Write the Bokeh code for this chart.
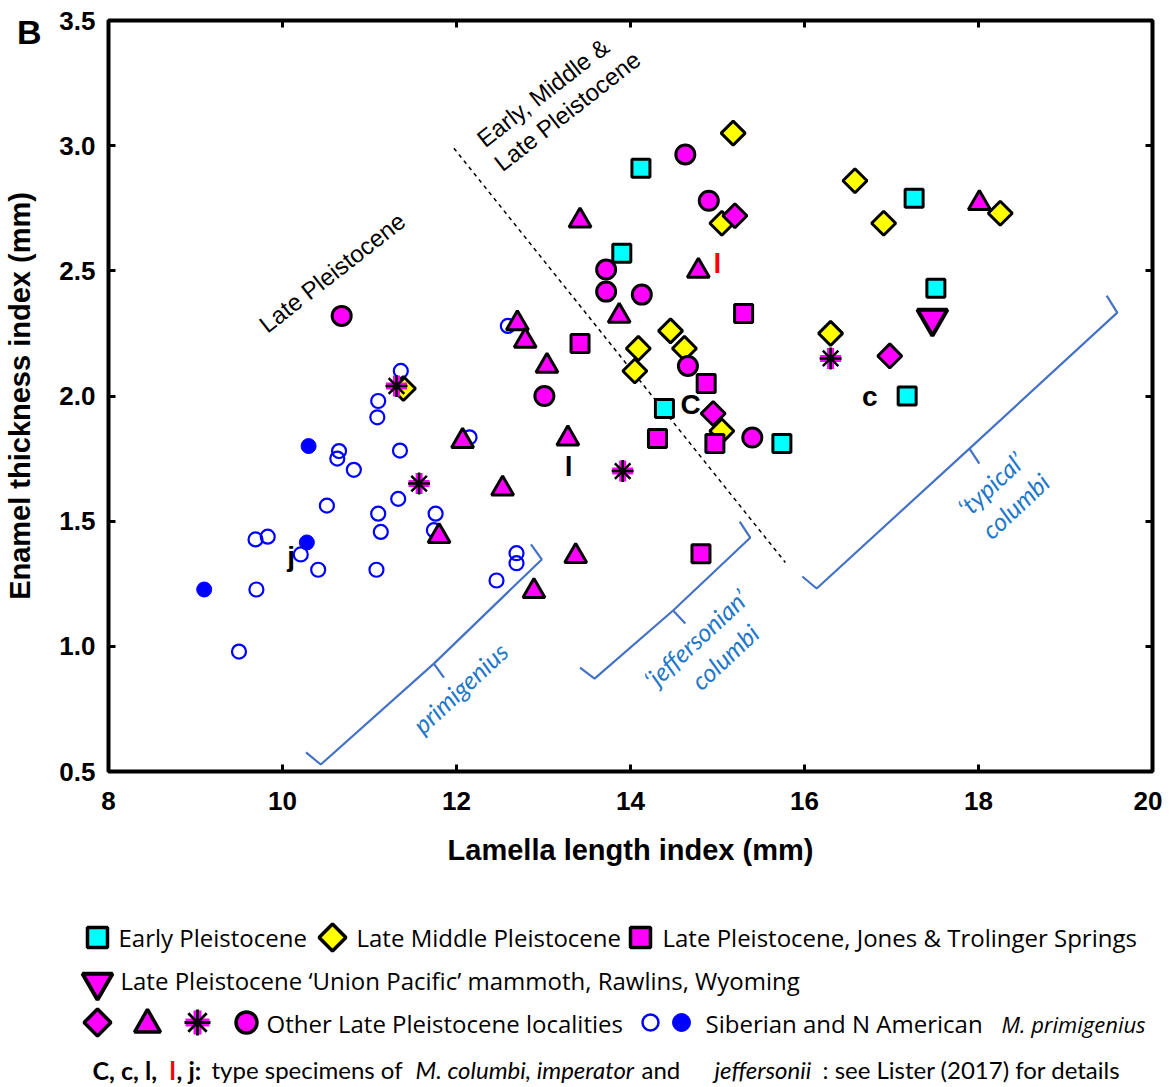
import math
from bokeh.plotting import figure
from bokeh.models import Range1d, LinearAxis, FixedTicker, NumeralTickFormatter, CustomJSTickFormatter
from bokeh.layouts import column
from bokeh.embed import file_html
from bokeh.resources import INLINE
from bokeh.core.properties import value

# ---------------- data ----------------
early_x = [14.12, 13.90, 17.26, 17.51, 17.18, 14.39, 15.74]
early_y = [2.91, 2.57, 2.79, 2.43, 2.00, 1.95, 1.81]

latemid_x = [15.18, 16.58, 16.91, 18.25, 15.05, 16.30, 14.46, 14.09, 14.62, 14.05, 15.05, 11.39]
latemid_y = [3.05, 2.86, 2.69, 2.73, 2.69, 2.25, 2.26, 2.19, 2.19, 2.10, 1.86, 2.03]

jones_x = [13.42, 15.30, 14.87, 14.31, 14.97, 14.81]
jones_y = [2.21, 2.33, 2.05, 1.83, 1.81, 1.37]

union_x = [17.47]
union_y = [2.31]

other_dia_x = [15.20, 16.98, 14.95]
other_dia_y = [2.72, 2.16, 1.93]

other_tri_x = [13.42, 14.78, 13.87, 12.70, 12.79, 13.04, 13.28, 12.07, 12.53, 11.80, 13.37, 12.89, 18.01]
other_tri_y = [2.70, 2.50, 2.32, 2.29, 2.22, 2.12, 1.83, 1.82, 1.63, 1.44, 1.36, 1.22, 2.77]

other_ast_x = [11.31, 11.57, 13.91, 16.30]
other_ast_y = [2.04, 1.65, 1.70, 2.15]

other_circ_x = [10.68, 14.63, 14.90, 13.72, 13.72, 14.13, 13.01, 14.66, 15.40]
other_circ_y = [2.32, 2.965, 2.78, 2.505, 2.417, 2.405, 2.00, 2.12, 1.834]

prim_open_x = [11.36, 11.10, 11.09, 10.65, 10.63, 10.82, 11.35, 12.15, 10.51, 11.33, 11.10, 11.13,
               11.76, 11.74, 9.69, 9.83, 10.21, 10.41, 11.08, 12.69, 12.69, 12.46, 9.70, 9.50, 12.59]
prim_open_y = [2.10, 1.98, 1.915, 1.78, 1.75, 1.705, 1.782, 1.835, 1.562, 1.589, 1.530, 1.457,
               1.530, 1.464, 1.427, 1.438, 1.367, 1.306, 1.306, 1.372, 1.332, 1.263, 1.227, 0.979, 2.28]

prim_fill_x = [10.30, 10.28, 9.10]
prim_fill_y = [1.80, 1.415, 1.227]

type_lbl = ["C", "c", "l", "l", "j"]
type_x = [14.69, 16.75, 13.29, 15.00, 10.10]
type_y = [1.966, 2.00, 1.72, 2.53, 1.36]
type_col = ["black", "black", "black", "#FF0000", "black"]

x_ticks = [8, 10, 12, 14, 16, 18, 20]
y_ticks = [0.5, 1.0, 1.5, 2.0, 2.5, 3.0, 3.5]
panel_letter_y = [3.455]

# boundary line and brackets (data units)
divide_x = [11.97, 15.78]
divide_y = [2.99, 1.335]

prim_br_x = [10.27, 10.44, 11.74, 11.855, 11.74, 12.98, 12.856]
prim_br_y = [0.576, 0.528, 0.931, 0.875, 0.931, 1.347, 1.407]
jeff_br_x = [13.42, 13.587, 14.49, 14.63, 14.49, 15.376, 15.255]
jeff_br_y = [0.915, 0.871, 1.143, 1.091, 1.143, 1.434, 1.498]
typ_br_x = [15.975, 16.14, 17.896, 18.01, 17.896, 19.595, 19.473]
typ_br_y = [1.279, 1.231, 1.79, 1.73, 1.79, 2.333, 2.401]

MAG = "#FF00FF"
CYAN = "#00FFFF"
YEL = "#FFFF00"
BLUE = "#0000FF"
BRC = "#4472C4"
BRT = "#1F78C8"
AX_FONT = "Liberation Sans"
LG_FONT = "Open Sans"
FN_FONT = "Lato"

W = 1162
H_MAIN = 875
FL, FR, FT, FB = 105, 10, 20, 104   # borders around the plotting frame

p = figure(width=W, height=H_MAIN, x_range=Range1d(8, 20), y_range=Range1d(0.5, 3.5),
           output_backend="svg", toolbar_location=None, frame_align=False,
           min_border_left=FL, min_border_right=FR, min_border_top=FT, min_border_bottom=FB)
p.grid.visible = False
p.outline_line_color = "black"
p.outline_line_width = 4
p.background_fill_color = "white"

for ax in (p.xaxis[0], p.yaxis[0]):
    ax.axis_line_color = None
    ax.major_tick_in = 7
    ax.major_tick_out = 0
    ax.major_tick_line_width = 3
    ax.major_tick_line_color = "black"
    ax.minor_tick_line_color = None
    ax.major_label_text_font = AX_FONT
    ax.major_label_text_font_style = "bold"
    ax.major_label_text_font_size = "26px"
    ax.major_label_text_color = "black"
    ax.axis_label_text_font = AX_FONT
    ax.axis_label_text_font_style = "bold"
    ax.axis_label_text_font_size = "29px"
    ax.axis_label_text_color = "black"

p.xaxis[0].ticker = FixedTicker(ticks=x_ticks)
p.xaxis[0].formatter = NumeralTickFormatter(format="0")
p.xaxis[0].major_label_standoff = 20
p.xaxis[0].axis_label = "Lamella length index (mm)"
p.xaxis[0].axis_label_standoff = 21

p.yaxis[0].ticker = FixedTicker(ticks=y_ticks)
p.yaxis[0].formatter = NumeralTickFormatter(format="0.0")
p.yaxis[0].major_label_standoff = 13

# outer left axis: carries the panel letter "B" and the y-axis title
outer = LinearAxis(ticker=FixedTicker(ticks=panel_letter_y), formatter=CustomJSTickFormatter(code="return 'B'"),
                   axis_line_color=None, major_tick_line_color=None, major_tick_in=0, major_tick_out=0,
                   minor_tick_line_color=None, major_label_standoff=15,
                   major_label_text_font=AX_FONT, major_label_text_font_style="bold",
                   major_label_text_font_size="34px", major_label_text_color="black",
                   axis_label="Enamel thickness index (mm)", axis_label_standoff=-22,
                   axis_label_text_font=AX_FONT, axis_label_text_font_style="bold",
                   axis_label_text_font_size="29px", axis_label_text_color="black")
p.add_layout(outer, "left")

# tick marks only on the top and right edges
for loc, tk in (("above", x_ticks), ("right", y_ticks)):
    a = LinearAxis(ticker=FixedTicker(ticks=tk), formatter=CustomJSTickFormatter(code="return ''"),
                   axis_line_color=None, major_tick_in=7, major_tick_out=0,
                   major_tick_line_width=3, minor_tick_line_color=None, major_label_standoff=0)
    p.add_layout(a, loc)

# dividing line and brackets
p.line(divide_x, divide_y, line_color="black", line_width=1.5, line_dash="4 4")
for bx, by in ((prim_br_x, prim_br_y), (jeff_br_x, jeff_br_y), (typ_br_x, typ_br_y)):
    p.line(bx, by, line_color=BRC, line_width=2.2)

# points
p.scatter(prim_open_x, prim_open_y, marker="circle", size=14, fill_color=None, line_color=BLUE, line_width=2.2)
p.scatter(prim_fill_x, prim_fill_y, marker="circle", size=15, fill_color=BLUE, line_color=BLUE)
p.scatter(early_x, early_y, marker="square", size=18, fill_color=CYAN, line_color="black", line_width=3)
p.scatter(latemid_x, latemid_y, marker="square", angle=math.pi / 4, size=17, fill_color=YEL, line_color="black", line_width=3)
p.scatter(jones_x, jones_y, marker="square", size=18, fill_color=MAG, line_color="black", line_width=3)
p.scatter(other_dia_x, other_dia_y, marker="square", angle=math.pi / 4, size=17, fill_color=MAG, line_color="black", line_width=3)
p.scatter(other_circ_x, other_circ_y, marker="circle", size=19, fill_color=MAG, line_color="black", line_width=3)
p.scatter(other_tri_x, other_tri_y, marker="triangle", size=22, fill_color=MAG, line_color="black", line_width=3)
p.scatter(other_ast_x, other_ast_y, marker="cross", size=21, line_color=MAG, line_width=7)
p.scatter(other_ast_x, other_ast_y, marker="asterisk", size=22, line_color="black", line_width=2.5)
p.scatter(union_x, union_y, marker="inverted_triangle", size=30, fill_color=MAG, line_color="black", line_width=4)

p.text(type_x, type_y, text=type_lbl, text_color=type_col, text_font=value(AX_FONT),
       text_font_style="bold", text_font_size="28px", text_align="center", text_baseline="middle")

# period annotations
p.text([10.57], [2.493], text=["Late Pleistocene"], angle=math.radians(38), text_font=value(AX_FONT),
       text_font_size="24px", text_align="center", text_baseline="middle", text_color="black")
p.text([12.27, 12.47], [3.015, 2.92], text=["Early, Middle &", "Late Pleistocene"], angle=math.radians(38),
       text_font=value(AX_FONT), text_font_size="24px", text_align="left", text_baseline="middle", text_color="black")

# bracket labels
p.text([12.04, 14.75, 15.08, 18.14, 18.42], [0.835, 1.031, 0.959, 1.649, 1.562],
       text=["primigenius", "\u2018jeffersonian\u2019", "columbi", "\u2018typical\u2019", "columbi"],
       angle=math.radians(43), text_font=value("Lato"), text_font_style="italic", text_font_size="25px",
       text_align="center", text_baseline="middle", text_color=BRT)

# ---------------- legend panel (page-pixel coordinates) ----------------
H_LEG = 210
TOP = H_MAIN
lg = figure(width=W, height=H_LEG, x_range=Range1d(0, W), y_range=Range1d(TOP + H_LEG, TOP),
            output_backend="svg", toolbar_location=None, frame_align=False,
            min_border=0, min_border_left=0, min_border_right=0, min_border_top=0, min_border_bottom=0)
lg.axis.visible = False
lg.grid.visible = False
lg.outline_line_color = None

lg.scatter([97], [937], marker="square", size=20, fill_color=CYAN, line_color="black", line_width=3.5)
lg.scatter([332], [937], marker="square", angle=math.pi / 4, size=19, fill_color=YEL, line_color="black", line_width=3.5)
lg.scatter([640], [937], marker="square", size=20, fill_color=MAG, line_color="black", line_width=3.5)
lg.scatter([97], [982], marker="inverted_triangle", size=30, fill_color=MAG, line_color="black", line_width=4)
lg.scatter([97], [1022], marker="square", angle=math.pi / 4, size=19, fill_color=MAG, line_color="black", line_width=3.5)
lg.scatter([147], [1024], marker="triangle", size=26, fill_color=MAG, line_color="black", line_width=3.5)
lg.scatter([197], [1022], marker="cross", size=24, line_color=MAG, line_width=8)
lg.scatter([197], [1022], marker="asterisk", size=26, line_color="black", line_width=2.8)
lg.scatter([246], [1022], marker="circle", size=21, fill_color=MAG, line_color="black", line_width=3.5)
lg.scatter([650], [1022], marker="circle", size=16, fill_color=None, line_color=BLUE, line_width=2.5)
lg.scatter([681], [1022], marker="circle", size=18, fill_color=BLUE, line_color=BLUE)

def seg(x, y, t, style="normal", color="black", size="24px", font=LG_FONT):
    lg.text([x], [y], text=[t], text_font=value(font), text_font_style=style, text_font_size=size,
            text_color=color, text_align="left", text_baseline="middle")

seg(118, 937, "Early Pleistocene")
seg(356, 937, "Late Middle Pleistocene")
seg(662, 937, "Late Pleistocene, Jones & Trolinger Springs")
seg(120, 980, "Late Pleistocene \u2018Union Pacific\u2019 mammoth, Rawlins, Wyoming")
seg(266, 1023, "Other Late Pleistocene localities")
seg(705, 1023, "Siberian and N American")
seg(1001, 1023, "M. primigenius", style="italic", size="22px")

FY = 1069
seg(92, FY, "C, c, l,", style="bold", size="25px", font=FN_FONT)
seg(169, FY, "l", style="bold", color="#FF0000", size="25px", font=FN_FONT)
seg(176, FY, ", j:", style="bold", size="25px", font=FN_FONT)
seg(211, FY, "type specimens of", size="24px", font=FN_FONT)
seg(415, FY, "M. columbi, imperator", style="italic", size="24px", font=FN_FONT)
seg(641, FY, "and", size="24px", font=FN_FONT)
seg(714, FY, "jeffersonii", style="italic", size="24px", font=FN_FONT)
seg(822, FY, ": see Lister (2017) for details", size="24px", font=FN_FONT)

layout = column(p, lg, spacing=0)
open("out.html", "w").write(file_html(layout, INLINE))
